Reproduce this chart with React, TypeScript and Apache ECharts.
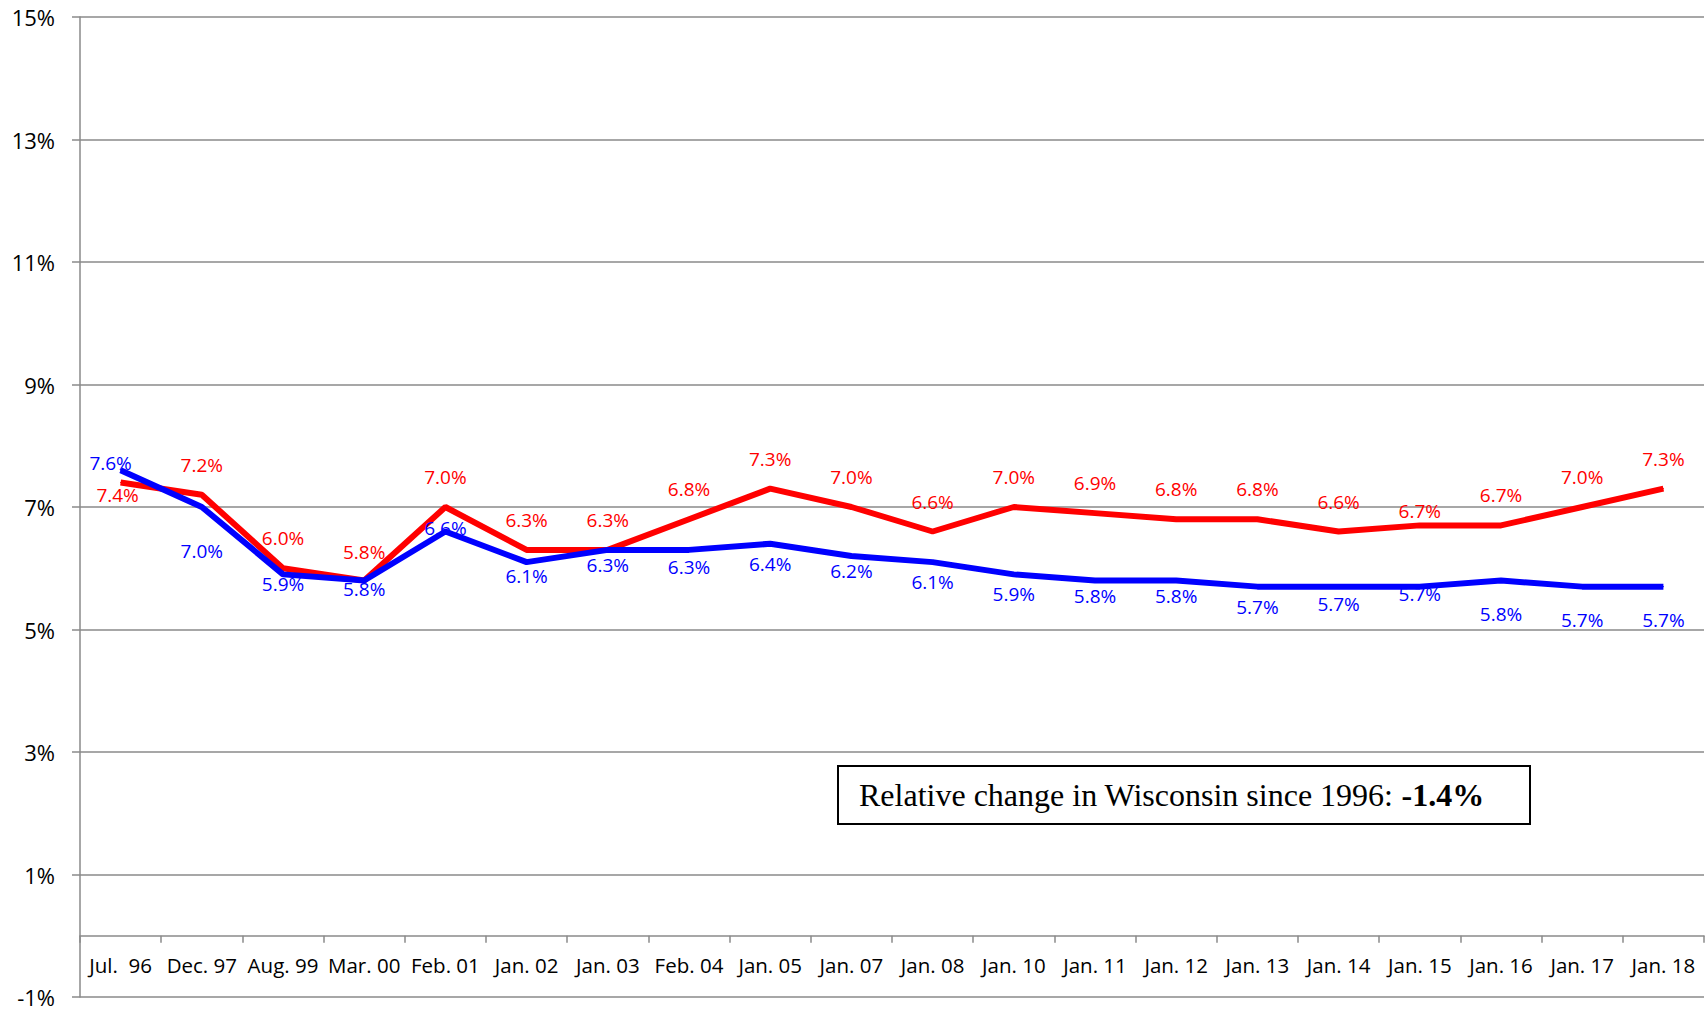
import React, { useEffect, useRef } from "react";
import * as echarts from "echarts";

const categories = [
  "Jul.  96", "Dec. 97", "Aug. 99", "Mar. 00", "Feb. 01", "Jan. 02", "Jan. 03", "Feb. 04",
  "Jan. 05", "Jan. 07", "Jan. 08", "Jan. 10", "Jan. 11", "Jan. 12", "Jan. 13", "Jan. 14",
  "Jan. 15", "Jan. 16", "Jan. 17", "Jan. 18",
];

const redValues = [7.4, 7.2, 6.0, 5.8, 7.0, 6.3, 6.3, 6.8, 7.3, 7.0, 6.6, 7.0, 6.9, 6.8, 6.8, 6.6, 6.7, 6.7, 7.0, 7.3];
const blueValues = [7.6, 7.0, 5.9, 5.8, 6.6, 6.1, 6.3, 6.3, 6.4, 6.2, 6.1, 5.9, 5.8, 5.8, 5.7, 5.7, 5.7, 5.8, 5.7, 5.7];

const yTicks = { min: -1, max: 15, interval: 2 };

const annotationText = "Relative change in Wisconsin since 1996: ";
const annotationValue = "-1.4%";

// label offsets (style only)
const redLabelOffsets: [number, number][] = [
  [-3, 12], [0, -30], [0, -30], [0, -29], [0, -30], [0, -30], [0, -30], [0, -30], [0, -30], [0, -30],
  [0, -30], [0, -30], [0, -30], [0, -30], [0, -30], [0, -30], [0, -14], [0, -30], [0, -30], [0, -30],
];
const blueLabelOffsets: [number, number][] = [
  [-10, -7], [0, 44], [0, 10], [0, 8], [0, -4], [0, 14], [0, 15], [0, 17], [0, 20], [0, 15],
  [0, 20], [0, 20], [0, 15], [0, 15], [0, 20], [0, 17], [0, 7], [0, 33], [0, 33], [0, 33],
];

const fmt = (v: number) => v.toFixed(1) + "%";

export default function App() {
  const ref = useRef<HTMLDivElement>(null);
  useEffect(() => {
    document.body.style.margin = "0";
    if (!ref.current) return;
    const chart = echarts.init(ref.current, null, { renderer: "svg" });
    const gridColor = "#8a8a8a";
    const labelFont = "Open Sans";
    const mkData = (vals: number[], offs: [number, number][], color: string) =>
      vals.map((v, i) => ({
        value: v,
        label: {
          show: true,
          position: "inside",
          offset: offs[i],
          formatter: fmt(v),
          color,
          fontFamily: labelFont,
          fontSize: 19,
        },
      }));
    chart.setOption({
      animation: false,
      backgroundColor: "#ffffff",
      grid: { left: 80, right: 2, top: 17, bottom: 12, containLabel: false, outerBoundsMode: "none" },
      xAxis: {
        type: "category",
        data: categories,
        boundaryGap: true,
        axisLine: { show: true, onZero: true, lineStyle: { color: gridColor, width: 1.5 } },
        axisTick: { show: true, inside: false, length: 7, alignWithLabel: false, lineStyle: { color: gridColor, width: 1.5 } },
        axisLabel: { color: "#000", fontFamily: labelFont, fontSize: 20.5, margin: -43, interval: 0 },
        splitLine: { show: false },
      },
      yAxis: {
        type: "value",
        min: yTicks.min,
        max: yTicks.max,
        interval: yTicks.interval,
        axisLine: { show: true, lineStyle: { color: gridColor, width: 1.5 } },
        axisTick: { show: true, inside: false, length: 8, lineStyle: { color: gridColor, width: 1.5 } },
        axisLabel: { color: "#000", fontFamily: labelFont, fontSize: 22, lineHeight: 22, margin: 25, formatter: (v: number) => v + "%" },
        splitLine: { show: true, lineStyle: { color: gridColor, width: 1.5 } },
      },
      series: [
        {
          type: "line",
          name: "Wisconsin",
          data: mkData(redValues, redLabelOffsets, "#ff0000"),
          symbol: "circle",
          symbolSize: 1,
          showSymbol: true,
          itemStyle: { color: "#ff0000" },
          lineStyle: { color: "#ff0000", width: 6 },
          z: 3,
        },
        {
          type: "line",
          name: "US",
          data: mkData(blueValues, blueLabelOffsets, "#0000ff"),
          symbol: "circle",
          symbolSize: 1,
          showSymbol: true,
          itemStyle: { color: "#0000ff" },
          lineStyle: { color: "#0000ff", width: 6 },
          z: 4,
        },
      ],
      graphic: [
        {
          type: "group",
          left: 837,
          top: 765,
          children: [
            {
              type: "rect",
              shape: { x: 0, y: 0, width: 692, height: 58 },
              style: { fill: "#ffffff", stroke: "#000000", lineWidth: 2 },
            },
            {
              type: "text",
              x: 21,
              y: 29,
              style: {
                text: "{a|" + annotationText + "}{b|" + annotationValue + "}",
                verticalAlign: "middle",
                align: "left",
                rich: {
                  a: { fontFamily: "Liberation Serif", fontSize: 32, fill: "#000", color: "#000" },
                  b: { fontFamily: "Liberation Serif", fontSize: 32, fontWeight: "bold", fill: "#000", color: "#000" },
                },
              },
            },
          ],
        },
      ],
    });
    return () => chart.dispose();
  }, []);
  return <div ref={ref} style={{ width: 1706, height: 1009, overflow: "hidden" }} />;
}
